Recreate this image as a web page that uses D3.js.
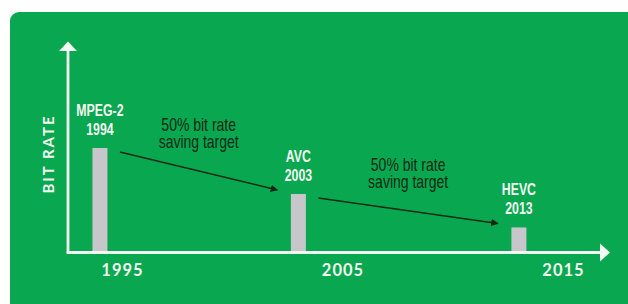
<!DOCTYPE html>
<html>
<head>
<meta charset="utf-8">
<script src="https://cdn.jsdelivr.net/npm/d3@7/dist/d3.min.js"></script>
<style>
  html, body { margin: 0; padding: 0; background: #ffffff; }
  svg { display: block; }
</style>
</head>
<body>
<svg id="chart" width="628" height="304"></svg>
<script>
// ---- data ----
const codecs = ["MPEG-2", "AVC", "HEVC"];
const years = [1994, 2003, 2013];
const bitRates = [100, 56, 24];           // relative bit rate
const tickYears = [1995, 2005, 2015];
const axisTitle = "BIT RATE";
const savingLines = ["50% bit rate", "saving target"];

// ---- layout ----
const svg = d3.select("#chart");
const green = "#09a74f";
const white = "#f2f8f2";
const dark = "#0c2a16";
const narrowFont = "'Liberation Sans', Arial, sans-serif";

// green panel with rounded corners
svg.append("rect")
  .attr("x", 10).attr("y", 12)
  .attr("width", 630).attr("height", 300)
  .attr("rx", 9).attr("ry", 9)
  .attr("fill", green);

const axisX0 = 68, axisY0 = 252.5;
const x = d3.scaleLinear().domain([1995, 2015]).range([122, 563]);
const y = d3.scaleLinear().domain([0, 100]).range([axisY0, 148]);

const barW = 15;

// bars
svg.append("g").selectAll("rect")
  .data(years)
  .join("rect")
  .attr("x", (d) => x(d) - barW / 2)
  .attr("y", (d, i) => y(bitRates[i]))
  .attr("width", barW)
  .attr("height", (d, i) => axisY0 - y(bitRates[i]))
  .attr("fill", "#c6c6cb");

// axes lines (white with arrowheads)
const axisG = svg.append("g");
axisG.append("line")
  .attr("x1", axisX0).attr("y1", axisY0)
  .attr("x2", axisX0).attr("y2", 50)
  .attr("stroke", white).attr("stroke-width", 2.8);
axisG.append("path")
  .attr("d", `M${axisX0 - 9},51 L${axisX0},41.5 L${axisX0 + 9},51 Z`)
  .attr("fill", white);
axisG.append("line")
  .attr("x1", axisX0 - 1.4).attr("y1", axisY0)
  .attr("x2", 601).attr("y2", axisY0)
  .attr("stroke", white).attr("stroke-width", 2.8);
axisG.append("path")
  .attr("d", `M600,${axisY0 - 9} L610,${axisY0} L600,${axisY0 + 9} Z`)
  .attr("fill", white);

// x tick labels via d3 axis
const xAxis = d3.axisBottom(x).tickValues(tickYears).tickFormat(d3.format("d")).tickSize(0).tickPadding(0);
const xg = svg.append("g").attr("transform", `translate(0,${axisY0 + 12})`).call(xAxis);
xg.select(".domain").remove();
xg.selectAll("text")
  .attr("dy", "0.71em")
  .attr("fill", white)
  .style("font-family", "Lato, 'DejaVu Sans', sans-serif")
  .style("font-weight", "700")
  .style("font-size", "16.5px")
  .style("letter-spacing", "1px");

// y axis title
svg.append("text")
  .attr("transform", `translate(53.5,154) rotate(-90)`)
  .attr("text-anchor", "middle")
  .attr("fill", white)
  .style("font-family", "Lato, 'DejaVu Sans', sans-serif")
  .style("font-weight", "700")
  .style("font-size", "15px")
  .style("letter-spacing", "2px")
  .text(axisTitle);

// bar labels (condensed bold)
const labelG = svg.append("g");
years.forEach((yr, i) => {
  const t = labelG.append("text")
    .attr("transform", `translate(${x(yr)},${y(bitRates[i]) - 32}) scale(0.77,1)`)
    .attr("text-anchor", "middle")
    .attr("fill", white)
    .style("font-family", narrowFont)
    .style("font-weight", "700")
    .style("font-size", "16px");
  t.append("tspan").attr("x", 0).attr("y", 0).text(codecs[i]);
  t.append("tspan").attr("x", 0).attr("y", 19).text(String(yr));
});

// arrows between bars
svg.append("defs").append("marker")
  .attr("id", "ah")
  .attr("viewBox", "0 0 10 10")
  .attr("refX", 9).attr("refY", 5)
  .attr("markerWidth", 5).attr("markerHeight", 5)
  .attr("orient", "auto")
  .append("path").attr("d", "M0,0 L10,5 L0,10 Z").attr("fill", dark);

const arrowG = svg.append("g");
for (let i = 0; i < years.length - 1; i++) {
  const x1 = x(years[i]) + 20, y1 = y(bitRates[i]) + 4;
  const x2 = x(years[i + 1]) - 21, y2 = y(bitRates[i + 1]) - 4;
  arrowG.append("line")
    .attr("x1", x1).attr("y1", y1).attr("x2", x2).attr("y2", y2)
    .attr("stroke", dark).attr("stroke-width", 1.5)
    .attr("marker-end", "url(#ah)");
  const mx = (x1 + x2) / 2, my = (y1 + y2) / 2;
  const t = arrowG.append("text")
    .attr("transform", `translate(${mx},${my - 40}) scale(0.8,1)`)
    .attr("text-anchor", "middle")
    .attr("fill", dark)
    .style("font-family", narrowFont)
    .style("font-size", "17.5px");
  t.append("tspan").attr("x", 0).attr("y", 0).text(savingLines[0]);
  t.append("tspan").attr("x", 0).attr("y", 17).text(savingLines[1]);
}
</script>
</body>
</html>
